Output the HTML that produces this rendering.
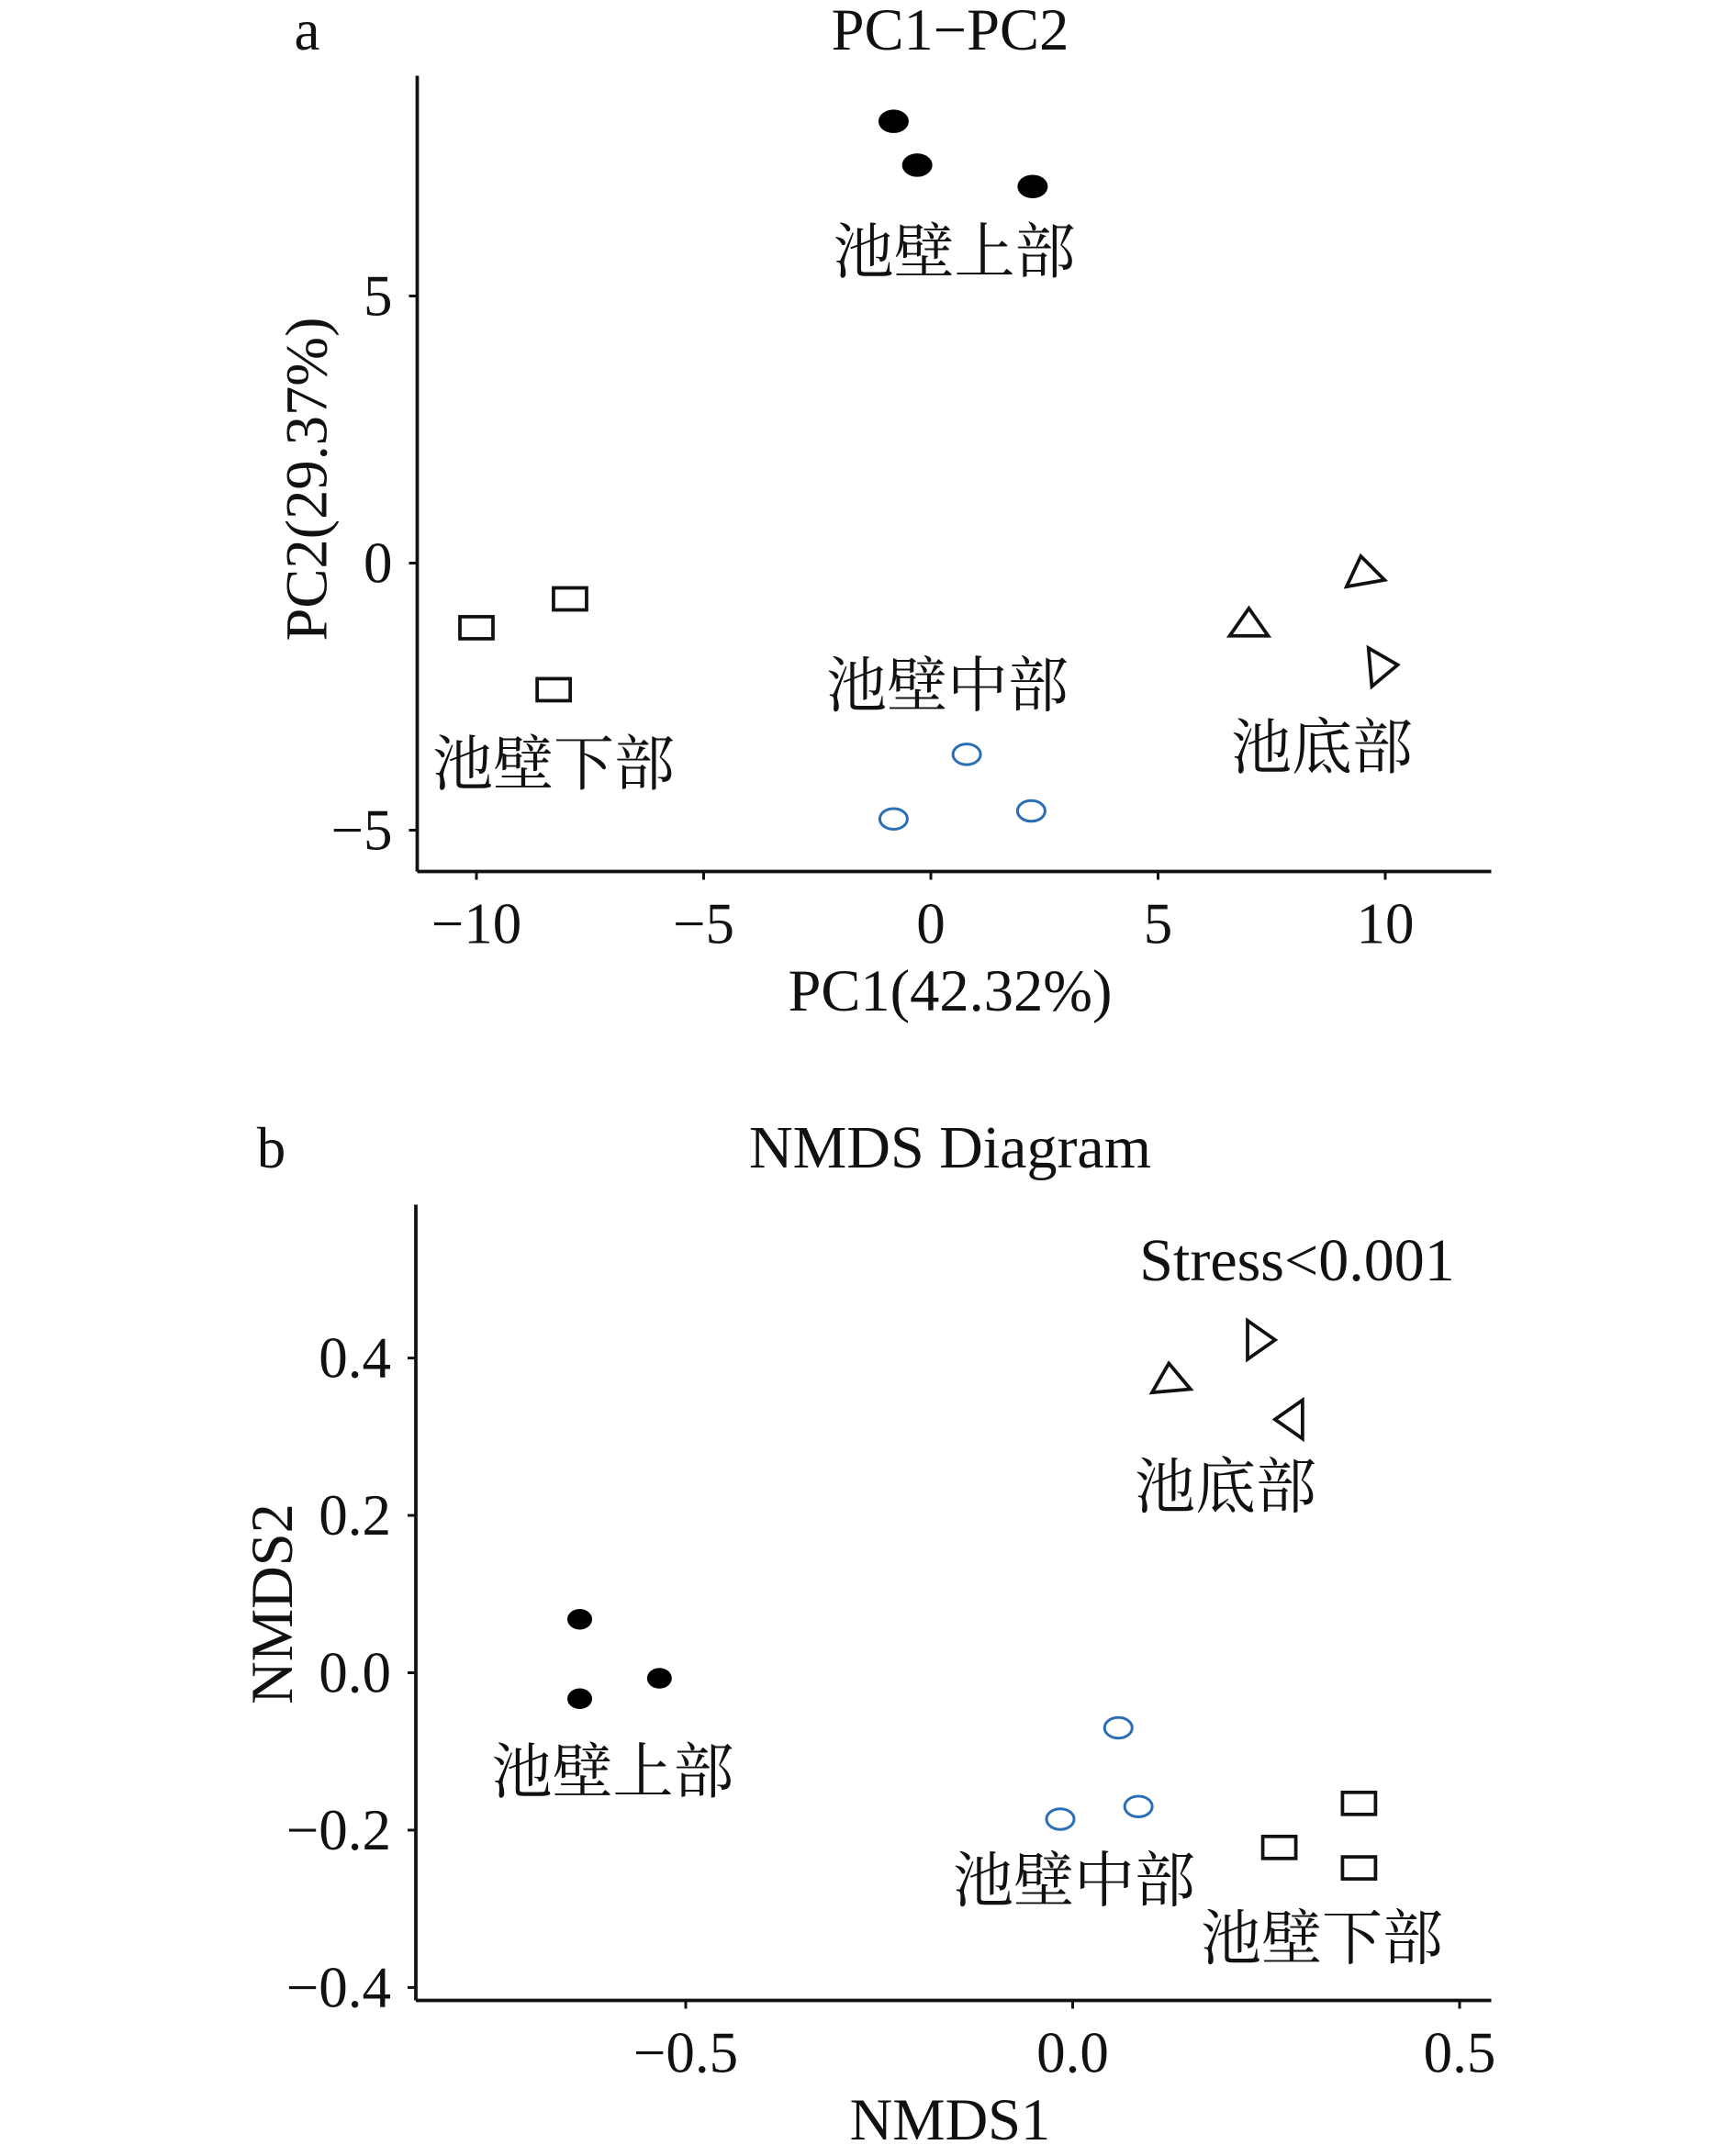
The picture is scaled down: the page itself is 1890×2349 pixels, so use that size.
<!DOCTYPE html>
<html><head><meta charset="utf-8"><style>
html,body{margin:0;padding:0;background:#fff;}
svg{display:block;}
text{font-family:"Liberation Serif","Noto Serif CJK SC",serif;fill:#111;}
.cj{font-family:"Liberation Serif","Noto Serif CJK SC","Noto Sans CJK SC",serif;}
</style></head><body>
<svg id="svg" width="1890" height="2349" viewBox="0 0 1260 1566" preserveAspectRatio="none" xmlns="http://www.w3.org/2000/svg">
<g id="pa"></g>
<g id="pb"></g>
</svg>
<script>
// Panel a data (PCA)
const aUpperX=[-0.82,-0.3,2.24], aUpperY=[8.27,7.45,7.05];
const aLowerX=[-10,-7.94,-8.3], aLowerY=[-1.21,-0.67,-2.37];
const aMidX=[0.79,-0.82,2.21], aMidY=[-3.58,-4.79,-4.64];
const aBotX=[7.0,9.52,9.94], aBotY=[-1.13,-0.15,-1.93];
const aXTicks=[-10,-5,0,5,10], aXTickLabels=["−10","−5","0","5","10"];
const aYTicks=[5,0,-5], aYTickLabels=["5","0","−5"];
// Panel b data (NMDS)
const bUpperX=[-0.637,-0.637,-0.534], bUpperY=[0.068,-0.033,-0.007];
const bMidX=[0.059,0.085,-0.016], bMidY=[-0.07,-0.17,-0.186];
const bLowerX=[0.37,0.267,0.37], bLowerY=[-0.166,-0.222,-0.248];
const bBotX=[0.126,0.242,0.281], bBotY=[0.374,0.423,0.322];
const bXTicks=[-0.5,0,0.5], bXTickLabels=["−0.5","0.0","0.5"];
const bYTicks=[0.4,0.2,0,-0.2,-0.4], bYTickLabels=["0.4","0.2","0.0","−0.2","−0.4"];

const NS="http://www.w3.org/2000/svg";
function mk(parent,tag,attrs,txt){const e=document.createElementNS(NS,tag);for(const k in attrs)e.setAttribute(k,attrs[k]);if(txt!==undefined)e.textContent=txt;parent.appendChild(e);return e;}

function panel(g,cfg){
  const sx=v=>cfg.x0+v*cfg.kx, sy=v=>cfg.y0-v*cfg.ky;
  let e;
  e=mk(g,'line',{x1:cfg.left,y1:cfg.top,x2:cfg.left,y2:cfg.bottom,stroke:'#111','stroke-width':2.5});
  
  
  e=mk(g,'line',{x1:cfg.left,y1:cfg.bottom,x2:cfg.right,y2:cfg.bottom,stroke:'#111','stroke-width':2.5});
  
  
  cfg.xt.forEach((v,i)=>{
    e=mk(g,'line',{x1:sx(v),y1:cfg.bottom,x2:sx(v),y2:cfg.bottom+6,stroke:'#111','stroke-width':2});
    
    
    e=mk(g,'text',{x:sx(v),y:cfg.bottom+52,'font-size':42,'text-anchor':'middle'},cfg.xl[i]);
    
    
  });
  cfg.yt.forEach((v,i)=>{
    e=mk(g,'line',{x1:cfg.left-6,y1:sy(v),x2:cfg.left,y2:sy(v),stroke:'#111','stroke-width':2});
    
    
    e=mk(g,'text',{x:cfg.left-18,y:sy(v)+14,'font-size':42,'text-anchor':'end'},cfg.yl[i]);
    
    
  });
  cfg.up[0].forEach((v,i)=>{
    e=mk(g,'ellipse',{cx:sx(v),cy:sy(cfg.up[1][i]),rx:cfg.big?11:9,ry:cfg.big?8.5:7.5,fill:'#000'});
    
    
  });
  cfg.mid[0].forEach((v,i)=>{
    e=mk(g,'ellipse',{cx:sx(v),cy:sy(cfg.mid[1][i]),rx:10,ry:7.5,fill:'none',stroke:'#2a6fb5','stroke-width':2});
    
    
  });
  cfg.low[0].forEach((v,i)=>{
    e=mk(g,'rect',{x:sx(v)-12,y:sy(cfg.low[1][i])-8,width:24,height:16,fill:'none',stroke:'#111','stroke-width':2.5});
    
    
  });
  cfg.bot[0].forEach((v,i)=>{
    const cx=sx(v), cy=sy(cfg.bot[1][i]);
    e=mk(g,'polygon',{points:`${cx},${cy-11} ${cx+14},${cy+9} ${cx-14},${cy+9}`,fill:'none',stroke:'#111','stroke-width':2.5,transform:`rotate(${cfg.rot[i]} ${cx} ${cy})`});
    
    
  });
}

panel(document.getElementById('pa'),{left:303,right:1083,top:55,bottom:633,x0:676,kx:33,y0:409,ky:38.8,
  xt:aXTicks,xl:aXTickLabels,yt:aYTicks,yl:aYTickLabels,up:[aUpperX,aUpperY],mid:[aMidX,aMidY],low:[aLowerX,aLowerY],bot:[aBotX,aBotY],rot:[0,-10,85],big:true});
panel(document.getElementById('pb'),{left:302,right:1083,top:875,bottom:1453,x0:779,kx:562,y0:1215,ky:571.5,
  xt:bXTicks,xl:bXTickLabels,yt:bYTicks,yl:bYTickLabels,up:[bUpperX,bUpperY],mid:[bMidX,bMidY],low:[bLowerX,bLowerY],bot:[bBotX,bBotY],rot:[-5,90,-90],big:false});
</script>
<svg style="position:absolute;left:0;top:0" width="1890" height="2349" viewBox="0 0 1260 1566" preserveAspectRatio="none" xmlns="http://www.w3.org/2000/svg">
<text x="223" y="36" font-size="42" text-anchor="middle">a</text>
<text x="690" y="36" font-size="43" text-anchor="middle">PC1−PC2</text>
<text x="690" y="734" font-size="43" text-anchor="middle">PC1(42.32%)</text>
<text transform="translate(237 348) rotate(-90)" font-size="43" text-anchor="middle">PC2(29.37%)</text>
<text class="cj" x="693" y="198" font-size="44" text-anchor="middle">池壁上部</text>
<text class="cj" x="402" y="570" font-size="44" text-anchor="middle">池壁下部</text>
<text class="cj" x="688" y="513" font-size="44" text-anchor="middle">池壁中部</text>
<text class="cj" x="960" y="558" font-size="44" text-anchor="middle">池底部</text>
<text x="197" y="848" font-size="42" text-anchor="middle">b</text>
<text x="690" y="848" font-size="44" text-anchor="middle">NMDS Diagram</text>
<text x="942" y="930" font-size="44" text-anchor="middle">Stress&lt;0.001</text>
<text x="690" y="1554" font-size="43" text-anchor="middle">NMDS1</text>
<text transform="translate(212 1165) rotate(-90)" font-size="43" text-anchor="middle">NMDS2</text>
<text class="cj" x="890" y="1095" font-size="44" text-anchor="middle">池底部</text>
<text class="cj" x="445" y="1302" font-size="44" text-anchor="middle">池壁上部</text>
<text class="cj" x="780" y="1381" font-size="44" text-anchor="middle">池壁中部</text>
<text class="cj" x="960" y="1423" font-size="44" text-anchor="middle">池壁下部</text>
</svg>
</body></html>
